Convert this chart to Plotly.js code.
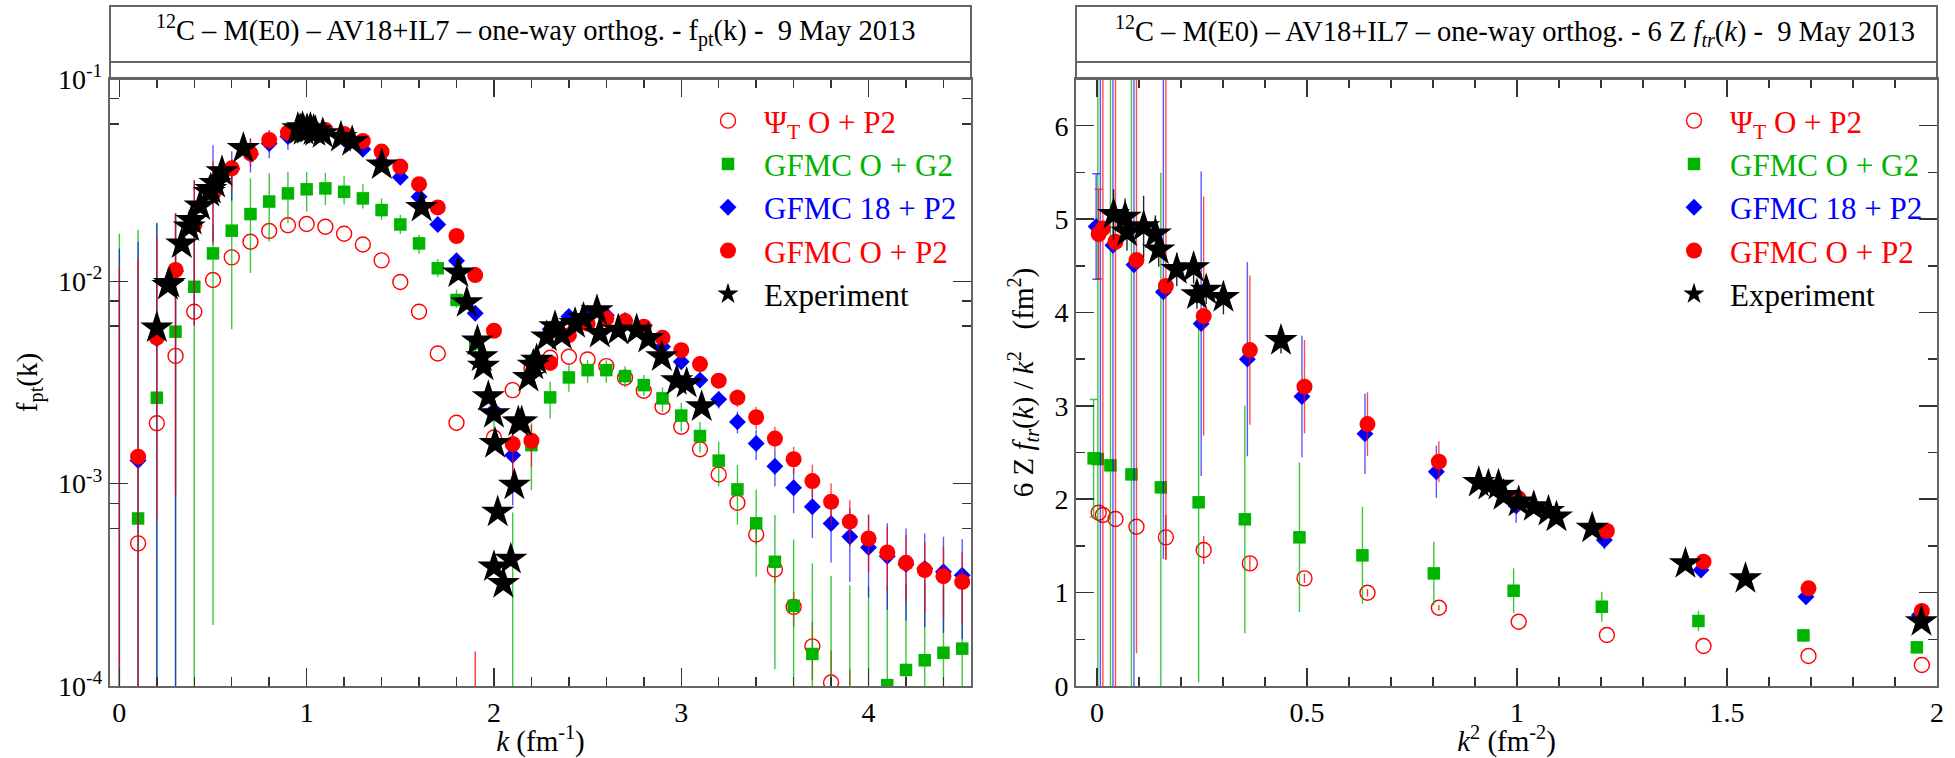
<!DOCTYPE html>
<html>
<head>
<meta charset="utf-8">
<script src="https://cdn.plot.ly/plotly-3.0.1.min.js"></script>
<style>html,body{margin:0;padding:0;background:#fff;}#chart{width:1955px;height:758px;}</style>
</head>
<body>
<div id="chart"></div>
<script>
// ---------------- LEFT PANEL: f_pt(k) vs k (log scale) ----------------
const kGrid = [0,0.1,0.2,0.3,0.4,0.5,0.6,0.7,0.8,0.9,1.0,1.1,1.2,1.3,1.4,1.5,1.6,1.7,1.8,1.9,2.0,2.1,2.2,2.3,2.4,2.5,2.6,2.7,2.8,2.9,3.0,3.1,3.2,3.3,3.4,3.5,3.6,3.7,3.8,3.9,4.0,4.1,4.2,4.3,4.4,4.5];

const fPsiT = [null,5.07e-4,1.99e-3,4.28e-3,7.08e-3,0.01015,0.01314,0.0157,0.01774,0.01892,0.0192,0.01862,0.0172,0.0152,0.0127,0.00993,0.00708,0.0044,0.0020,5e-5,1.69e-3,2.9e-3,3.7e-3,4.19e-3,4.24e-3,4.11e-3,3.81e-3,3.34e-3,2.88e-3,2.40e-3,1.91e-3,1.48e-3,1.11e-3,8.05e-4,5.61e-4,3.77e-4,2.46e-4,1.57e-4,1.04e-4,7e-5,null,null,null,null,null,null];
const ePsiTp = [0,0,0,0,0,0,0,0,0,0,0,0,0,0,0,0,0,0,0,9.8e-5,0,0,0,0,0,0,0,0,0,0,0,0,0,0,6e-5,5.8e-5,4.6e-5,5e-5,4.6e-5,5.1e-5,0,0,0,0,0,0];
const ePsiTm = [0,0,0,0,0,0,0,0,0,0,0,0,0,0,0,0,0,0,0,5e-5,0,0,0,0,0,0,0,0,0,0,0,0,0,0,6e-5,5.3e-5,5e-5,5e-5,5e-5,7e-5,0,0,0,0,0,0];

const fG2 = [5e-5,6.73e-4,2.66e-3,5.64e-3,9.4e-3,0.01374,0.0178,0.0215,0.0248,0.0272,0.0285,0.0288,0.0277,0.0257,0.0225,0.0191,0.0154,0.0116,8.09e-3,4.93e-3,2.22e-3,8e-5,1.55e-3,2.67e-3,3.35e-3,3.64e-3,3.64e-3,3.4e-3,3.07e-3,2.64e-3,2.17e-3,1.72e-3,1.30e-3,9.37e-4,6.37e-4,4.11e-4,2.49e-4,1.44e-4,7e-5,6e-5,7e-5,1.01e-4,1.2e-4,1.34e-4,1.46e-4,1.53e-4];
const eG2p = [0.0172,0.0173,0.0167,0.0159,0.0121,0.0053,0.0164,0.0108,0.0094,0.0076,0.0063,0.0056,0.0054,0.0045,0.0032,0.0022,0.0016,0.0013,0.0010,8e-4,2.7e-4,6.4e-4,4e-4,5.2e-4,5e-4,4.4e-4,4.3e-4,4.1e-4,3.7e-4,3.5e-4,3.4e-4,3e-4,3.1e-4,3e-4,3e-4,2.9e-4,2.8e-4,2.6e-4,2.8e-4,2.55e-4,2.4e-4,2.1e-4,2e-4,1.9e-4,1.6e-4,1.56e-4];
const eG2m = [5e-5,6.73e-4,2.66e-3,5.64e-3,9.4e-3,0.01354,0.012,0.0105,0.0091,0.0078,0.0064,0.005,0.0037,0.0028,0.0024,0.002,0.0017,0.0011,7e-4,7e-4,5.8e-4,8e-5,6.2e-4,5.7e-4,5e-4,4.9e-4,4.9e-4,4.1e-4,3.6e-4,3.8e-4,3.6e-4,3e-4,3.3e-4,3.1e-4,2.9e-4,2.9e-4,2.49e-4,1.44e-4,7e-5,6e-5,7e-5,1.01e-4,1.2e-4,1.34e-4,1.46e-4,1.53e-4];

const f18 = [5e-5,1.3e-3,5.2e-3,0.0112,0.0188,0.027,0.036,0.0425,0.048,0.052,0.0545,0.054,0.0505,0.0449,0.039,0.0327,0.0262,0.0191,0.01265,6.95e-3,2.3e-3,1.38e-3,4.0e-3,5.8e-3,6.7e-3,6.95e-3,6.8e-3,6.4e-3,5.6e-3,4.75e-3,4.0e-3,3.25e-3,2.61e-3,2.02e-3,1.58e-3,1.22e-3,9.55e-4,7.69e-4,6.36e-4,5.47e-4,4.84e-4,4.38e-4,4.0e-4,3.81e-4,3.67e-4,3.53e-4];
const e18p = [0.0145,0.0144,0.0143,0.0105,0.0128,0.020,0.008,0.0084,0.008,0.004,0.002,0.002,0.002,0.002,0.0015,0.0012,0.001,0.0008,0.0006,0.0004,2e-4,6e-4,4e-4,4e-4,4e-4,3e-4,3e-4,3e-4,3e-4,3e-4,3e-4,2.8e-4,2.6e-4,2.5e-4,2.6e-4,2.5e-4,2.4e-4,2e-4,1.64e-4,2.1e-4,2.2e-4,2e-4,2e-4,1.86e-4,1.8e-4,1.78e-4];
const e18m = [5e-5,1.3e-3,5.2e-3,0.0112,0.0127,0.0113,0.011,0.008,0.0074,0.0073,0.002,0.002,0.002,0.002,0.0015,0.0012,0.001,0.0008,0.0006,0.0004,2e-4,6e-4,4e-4,4e-4,4e-4,3e-4,3e-4,3e-4,3e-4,3e-4,3e-4,2.8e-4,2.6e-4,2.5e-4,2.7e-4,2.5e-4,2.4e-4,2.3e-4,2.28e-4,2.2e-4,2.1e-4,2e-4,1.9e-4,1.86e-4,1.84e-4,1.83e-4];

const fP2 = [5e-5,1.36e-3,5.27e-3,0.01138,0.019,0.0272,0.0362,0.0429,0.05,0.0543,0.056,0.056,0.0535,0.0494,0.0438,0.0369,0.0302,0.0232,0.01675,0.01074,5.7e-3,1.57e-3,1.63e-3,3.95e-3,5.42e-3,6.19e-3,6.56e-3,6.36e-3,5.97e-3,5.26e-3,4.57e-3,3.90e-3,3.23e-3,2.66e-3,2.13e-3,1.67e-3,1.32e-3,1.03e-3,8.14e-4,6.49e-4,5.36e-4,4.57e-4,4.06e-4,3.74e-4,3.49e-4,3.27e-4];
const eP2p = [0.01175,0.0115,0.0111,0.0103,0.0126,0.012,0.004,0.008,0.005,0.002,0.002,0.002,0.002,0.002,0.0015,0.0012,0.001,0.0008,0.0006,0.0005,4e-4,5e-4,3.6e-4,3e-4,3e-4,3e-4,3e-4,3e-4,3e-4,3e-4,3e-4,2.8e-4,2.7e-4,2.7e-4,2.7e-4,2.4e-4,2e-4,2.1e-4,1.9e-4,1.8e-4,1.6e-4,1.55e-4,1.5e-4,1.4e-4,1.4e-4,1.33e-4];
const eP2m = [5e-5,1.36e-3,0.0046,0.0105,0.013,0.012,0.008,0.006,0.005,0.002,0.002,0.002,0.002,0.002,0.0015,0.0012,0.001,0.0008,0.0006,0.0005,4e-4,5e-4,4.2e-4,3e-4,3e-4,3e-4,3e-4,3e-4,3e-4,3e-4,3e-4,2.8e-4,2.7e-4,2.7e-4,2.7e-4,2e-4,2e-4,1.7e-4,1.9e-4,1.6e-4,1.7e-4,1.6e-4,1.45e-4,1.45e-4,1.33e-4,1.27e-4];

const kExp = [0.200,0.259,0.267,0.333,0.373,0.386,0.431,0.480,0.488,0.511,0.548,0.662,0.953,0.965,0.978,0.984,1.002,1.020,1.037,1.046,1.086,1.183,1.243,1.401,1.614,1.810,1.855,1.912,1.935,1.944,1.970,2.000,2.006,2.020,2.000,2.050,2.090,2.109,2.130,2.148,2.184,2.210,2.228,2.282,2.326,2.362,2.433,2.478,2.550,2.565,2.664,2.762,2.824,2.896,2.976,3.029,3.109];
const fExp = [5.89e-3,9.55e-3,9.77e-3,0.0153,0.0186,0.0200,0.0236,0.0275,0.0285,0.0305,0.0348,0.0454,0.0569,0.0562,0.0575,0.0556,0.0562,0.0569,0.0556,0.0550,0.0537,0.0515,0.0490,0.0376,0.0232,0.0110,7.85e-3,5.07e-3,4.24e-3,3.81e-3,2.69e-3,2.22e-3,1.58e-3,7.24e-4,3.88e-4,3.21e-4,4.23e-4,9.84e-4,2.02e-3,2.02e-3,3.35e-3,3.85e-3,4.08e-3,5.32e-3,5.97e-3,5.42e-3,6.19e-3,6.56e-3,7.16e-3,5.53e-3,5.74e-3,5.74e-3,5.22e-3,4.24e-3,3.23e-3,3.13e-3,2.40e-3];

const yDecadeVals = [1e-4,1e-3,1e-2,1e-1];
const yDecadeText = ['10<sup>-4</sup>','10<sup>-3</sup>','10<sup>-2</sup>','10<sup>-1</sup>'];
const yLongMinorVals = [2e-4,4e-4,2e-3,4e-3,2e-2,4e-2];
const yShortMinorVals = [6e-4,8e-4,6e-3,8e-3,6e-2,8e-2];

// ---------------- RIGHT PANEL: 6 Z f_tr(k)/k^2 vs k^2 ----------------
// index 0 = k^2 -> 0 limit (drawn with capped error bars)
const k2P2  = [0.004,0.014,0.044,0.094,0.164,0.254,0.364,0.494,0.644,0.814,1.004,1.214,1.444,1.694,1.964];
const k2B18 = [-0.002,0.008,0.038,0.088,0.158,0.248,0.358,0.488,0.638,0.808,0.998,1.208,1.438,1.688,1.958];
const k2G2  = [-0.008,0.002,0.032,0.082,0.152,0.242,0.352,0.482,0.632,0.802,0.992,1.202,1.432,1.682,1.952];

const vPsiR = [1.856,1.831,1.788,1.706,1.592,1.456,1.313,1.153,0.999,0.838,0.688,0.546,0.428,0.321,0.225];
const ePsiR = [0,0,0,0,0.24,0.15,0.08,0.05,0.04,0.03,0,0,0,0,0];
const vG2R  = [2.438,2.43,2.363,2.266,2.127,1.967,1.785,1.592,1.399,1.206,1.020,0.849,0.696,0.542,0.414];
const eG2R  = [0.63,6,6,6,3.37,1.93,1.22,0.80,0.52,0.34,0.24,0.16,0.11,0.07,0.03];
const v18R  = [4.92,4.88,4.72,4.51,4.22,3.88,3.50,3.10,2.70,2.295,1.927,1.563,1.242,0.956,0.76];
const e18R  = [0.565,8,8,6,2.86,1.63,1.04,0.65,0.43,0.28,0.18,0.10,0.05,0.04,0.03];
const vP2R  = [4.84,4.90,4.757,4.561,4.283,3.961,3.597,3.205,2.805,2.402,2.01,1.66,1.331,1.046,0.803];
const eP2R  = [0.48,8,8,4.21,2.93,1.28,0.80,0.50,0.34,0.22,0.14,0.07,0.04,0.03,0.02];

const k2Exp = [0.0395,0.067,0.0714,0.111,0.139,0.147,0.190,0.230,0.238,0.260,0.301,0.438,0.909,0.932,0.956,0.968,1.004,1.040,1.075,1.094,1.179,1.401,1.544,1.963];
const vExp  = [5.05,5.02,4.86,4.92,4.84,4.67,4.46,4.48,4.19,4.24,4.16,3.70,2.18,2.15,2.15,2.04,1.97,1.92,1.87,1.81,1.69,1.31,1.15,0.69];
const eExp  = [0.27,0.2,0.2,0.33,0.2,0.18,0.18,0.17,0.15,0.15,0.18,0.14,0.05,0.05,0.05,0.05,0.05,0.05,0.05,0.05,0.05,0.05,0.05,0.05];

const names = {
  psi: '<span style="color:#ff0000">Ψ<sub>T</sub> O + P2</span>',
  g2:  '<span style="color:#00b400">GFMC O + G2</span>',
  b18: '<span style="color:#0000ff">GFMC 18 + P2</span>',
  p2:  '<span style="color:#ff0000">GFMC O + P2</span>',
  exp: 'Experiment'
};

// ---------------- styling ----------------
const FONT = '"Liberation Serif", "Times New Roman", Times, serif';
const RED = '#ff0000', GREEN = '#00b400', BLUE = '#0000ff';
const W = 1955, H = 758;
const px = v => v / W, py = v => 1 - v / H;
const L = {x0: 110, x1: 971}, R = {x0: 1076, x1: 1937}, PT = 79, PB = 686;

function eb(plus, minus, color, width) {
  const o = {type: 'data', visible: true, array: plus, color: color, thickness: 1.4, width: width || 0};
  if (minus) { o.symmetric = false; o.arrayminus = minus; } else { o.symmetric = true; }
  return o;
}

const mk = {
  psi: {symbol: 'circle-open', size: 15, color: RED, line: {width: 1.4, color: RED}},
  g2:  {symbol: 'square', size: 12.5, color: GREEN, line: {width: 0}},
  b18: {symbol: 'diamond', size: 13, color: BLUE, line: {width: 0}},
  p2:  {symbol: 'circle', size: 16, color: RED, line: {width: 0}},
  exp: {symbol: 'star', size: 25, color: '#000', line: {width: 0}}
};
const ebc = {psi: 'rgba(255,0,0,0.8)', g2: 'rgba(0,180,0,0.75)', b18: 'rgba(0,0,255,0.65)', p2: 'rgba(255,0,0,0.7)'};

const traces = [
  // left
  {x: kGrid, y: fPsiT, mode: 'markers', type: 'scatter', name: names.psi, marker: mk.psi, error_y: eb(ePsiTp, ePsiTm, ebc.psi), xaxis: 'x', yaxis: 'y', legend: 'legend'},
  {x: kGrid, y: fG2, mode: 'markers', type: 'scatter', name: names.g2, marker: mk.g2, error_y: eb(eG2p, eG2m, ebc.g2), xaxis: 'x', yaxis: 'y', legend: 'legend'},
  {x: kGrid, y: f18, mode: 'markers', type: 'scatter', name: names.b18, marker: mk.b18, error_y: eb(e18p, e18m, ebc.b18), xaxis: 'x', yaxis: 'y', legend: 'legend'},
  {x: kGrid, y: fP2, mode: 'markers', type: 'scatter', name: names.p2, marker: mk.p2, error_y: eb(eP2p, eP2m, ebc.p2), xaxis: 'x', yaxis: 'y', legend: 'legend'},
  {x: kExp, y: fExp, mode: 'markers', type: 'scatter', name: names.exp, marker: mk.exp, xaxis: 'x', yaxis: 'y', legend: 'legend'},
  // right
  {x: k2P2, y: vPsiR, mode: 'markers', type: 'scatter', name: names.psi, marker: mk.psi, error_y: eb(ePsiR, null, ebc.psi), xaxis: 'x2', yaxis: 'y2', legend: 'legend2'},
  {x: k2G2.slice(1), y: vG2R.slice(1), mode: 'markers', type: 'scatter', name: names.g2, marker: mk.g2, error_y: eb(eG2R.slice(1), null, ebc.g2), xaxis: 'x2', yaxis: 'y2', legend: 'legend2'},
  {x: k2G2.slice(0,1), y: vG2R.slice(0,1), mode: 'markers', type: 'scatter', showlegend: false, marker: mk.g2, error_y: eb(eG2R.slice(0,1), null, ebc.g2, 4), xaxis: 'x2', yaxis: 'y2', legend: 'legend2'},
  {x: k2B18.slice(1), y: v18R.slice(1), mode: 'markers', type: 'scatter', name: names.b18, marker: mk.b18, error_y: eb(e18R.slice(1), null, ebc.b18), xaxis: 'x2', yaxis: 'y2', legend: 'legend2'},
  {x: k2B18.slice(0,1), y: v18R.slice(0,1), mode: 'markers', type: 'scatter', showlegend: false, marker: mk.b18, error_y: eb(e18R.slice(0,1), null, ebc.b18, 4), xaxis: 'x2', yaxis: 'y2', legend: 'legend2'},
  {x: k2P2.slice(1), y: vP2R.slice(1), mode: 'markers', type: 'scatter', name: names.p2, marker: mk.p2, error_y: eb(eP2R.slice(1), null, ebc.p2), xaxis: 'x2', yaxis: 'y2', legend: 'legend2'},
  {x: k2P2.slice(0,1), y: vP2R.slice(0,1), mode: 'markers', type: 'scatter', showlegend: false, marker: mk.p2, error_y: eb(eP2R.slice(0,1), null, ebc.p2, 4), xaxis: 'x2', yaxis: 'y2', legend: 'legend2'},
  {x: k2Exp, y: vExp, mode: 'markers', type: 'scatter', name: names.exp, marker: mk.exp, error_y: eb(eExp, null, 'rgba(0,0,0,0.85)'), xaxis: 'x2', yaxis: 'y2', legend: 'legend2'}
];

const tickCommon = {
  ticks: 'inside', ticklen: 18, tickwidth: 1.5, tickcolor: '#333',
  showline: true, linecolor: '#666', linewidth: 2, mirror: 'ticks',
  showgrid: false, zeroline: false,
  tickfont: {family: FONT, size: 28, color: '#000'}
};
const minorCommon = {ticks: 'inside', ticklen: 9, tickwidth: 1.5, tickcolor: '#333', showgrid: false};

const legendCommon = {
  font: {family: FONT, size: 31, color: '#000'},
  bgcolor: 'rgba(255,255,255,0)', borderwidth: 0,
  xanchor: 'left', yanchor: 'top', itemwidth: 62,
  traceorder: 'normal', itemclick: false
};

function boxShapes(P) {
  return [
    {type: 'rect', xref: 'paper', yref: 'paper', x0: px(P.x0), x1: px(P.x1), y0: py(62), y1: py(6), line: {color: '#666', width: 2}},
    {type: 'rect', xref: 'paper', yref: 'paper', x0: px(P.x0), x1: px(P.x1), y0: py(PT), y1: py(62), line: {color: '#666', width: 2}}
  ];
}

const layout = {
  width: W, height: H,
  margin: {l: 0, r: 0, t: 0, b: 0},
  paper_bgcolor: '#fff', plot_bgcolor: '#fff',
  font: {family: FONT, color: '#000'},
  showlegend: true,
  xaxis: Object.assign({}, tickCommon, {
    domain: [px(L.x0), px(L.x1)], anchor: 'y', range: [-0.05, 4.547],
    tick0: 0, dtick: 1, minor: Object.assign({}, minorCommon, {dtick: 0.2}),
    title: {text: '<i>k</i> (fm<sup>-1</sup>)', font: {family: FONT, size: 29}, standoff: 14}
  }),
  yaxis: Object.assign({}, tickCommon, {
    domain: [py(PB), py(PT)], anchor: 'x', type: 'log', range: [-4, -1],
    tickmode: 'array', tickvals: yDecadeVals, ticktext: yDecadeText,
    minor: Object.assign({}, minorCommon, {tickmode: 'array', tickvals: yShortMinorVals}),
    title: {text: 'f<sub>pt</sub>(k)', font: {family: FONT, size: 29}, standoff: 12}
  }),
  // helper overlay axis: longer ticks at 2 and 4 per decade (no labels)
  yaxis3: {
    overlaying: 'y', anchor: 'x', side: 'left', type: 'log', range: [-4, -1],
    domain: [py(PB), py(PT)],
    tickmode: 'array', tickvals: yLongMinorVals, showticklabels: false,
    ticks: 'inside', ticklen: 18, tickwidth: 1.5, tickcolor: '#333',
    showline: false, mirror: 'ticks', showgrid: false, zeroline: false
  },
  xaxis2: Object.assign({}, tickCommon, {
    domain: [px(R.x0), px(R.x1)], anchor: 'y2', range: [-0.05, 2.0],
    tick0: 0, dtick: 0.5, minor: Object.assign({}, minorCommon, {dtick: 0.1}),
    title: {text: '<i>k</i><sup>2</sup> (fm<sup>-2</sup>)', font: {family: FONT, size: 29}, standoff: 14}
  }),
  yaxis2: Object.assign({}, tickCommon, {
    domain: [py(PB), py(PT)], anchor: 'x2', range: [0, 6.5],
    tick0: 0, dtick: 1, minor: Object.assign({}, minorCommon, {dtick: 0.5}),
    title: {text: '6 Z <i>f<sub>tr</sub></i>(<i>k</i>) / <i>k</i><sup>2</sup>&nbsp;&nbsp;&nbsp;(fm<sup>2</sup>)', font: {family: FONT, size: 29}, standoff: 12}
  }),
  legend: Object.assign({}, legendCommon, {x: px(692), y: py(94)}),
  legend2: Object.assign({}, legendCommon, {x: px(1658), y: py(94)}),
  shapes: [].concat(boxShapes(L), boxShapes(R)),
  annotations: [
    {xref: 'paper', yref: 'paper', x: px(535), y: py(31), xanchor: 'center', yanchor: 'middle', showarrow: false,
     text: '<sup>12</sup>C – M(E0) – AV18+IL7 – one-way orthog. - f<sub>pt</sub>(k) -  9 May 2013', font: {family: FONT, size: 28.5, color: '#000'}},
    {xref: 'paper', yref: 'paper', x: px(1515), y: py(31), xanchor: 'center', yanchor: 'middle', showarrow: false,
     text: '<sup>12</sup>C – M(E0) – AV18+IL7 – one-way orthog. - 6 Z <i>f<sub>tr</sub></i>(<i>k</i>) -  9 May 2013', font: {family: FONT, size: 28.5, color: '#000'}}
  ]
};

Plotly.newPlot('chart', traces, layout, {displayModeBar: false, staticPlot: true});
</script>
</body>
</html>
